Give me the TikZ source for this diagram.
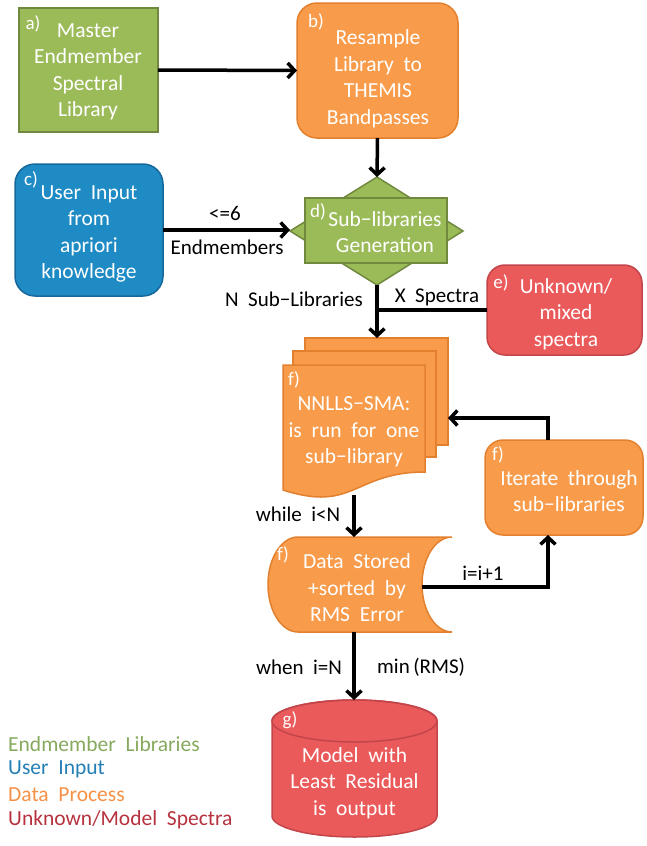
\documentclass[tikz,border=0pt]{standalone}
\usepackage{fontspec}
\setmainfont[WordSpace=2.0]{Carlito}
\usetikzlibrary{arrows.meta}
\definecolor{gfill}{HTML}{9BBB59}
\definecolor{gdraw}{HTML}{71893F}
\definecolor{ofill}{HTML}{F89C4C}
\definecolor{odraw}{HTML}{E3802E}
\definecolor{bfill}{HTML}{1E8BC5}
\definecolor{bdraw}{HTML}{16679A}
\definecolor{rfill}{HTML}{EB5A5B}
\definecolor{rdraw}{HTML}{C2454A}
\definecolor{lgreen}{HTML}{86A95E}
\definecolor{lblue}{HTML}{237FB4}
\definecolor{lorange}{HTML}{F59047}
\definecolor{lred}{HTML}{B5323E}
\begin{document}
\begin{tikzpicture}[x=1pt,y=-1pt,
  gshape/.style={fill=gfill,draw=gdraw,line width=1.5pt},
  oshape/.style={fill=ofill,draw=odraw,line width=1.5pt},
  bshape/.style={fill=bfill,draw=bdraw,line width=1.5pt},
  rshape/.style={fill=rfill,draw=rdraw,line width=1.5pt},
  boxnode/.style={inner sep=0pt,outer sep=0pt},
  boxtext/.style={text=white,align=center,inner sep=0pt,font=\fontsize{21.5}{26.5}\selectfont},
  tag/.style={text=white,inner sep=0pt,font=\fontsize{19}{20}\selectfont},
  elabel/.style={text=black,inner sep=0pt,font=\fontsize{21}{24}\selectfont},
  legend/.style={anchor=west,inner sep=0pt,font=\fontsize{21.5}{24}\selectfont},
  arr/.style={line width=3.5pt,-{Straight Barb[length=7pt,width=15pt,line width=3.5pt]}},
  conn/.style={line width=3.5pt}]
\useasboundingbox (0,0) rectangle (646,846);

% a) master library
\node[gshape,boxnode,minimum width=139pt,minimum height=124pt] (a) at (88.5,70) {};
\node[boxtext] (atext) at (88,72) {Master\\Endmember\\Spectral\\Library};
\node[tag] (atag) at (33,24) {a)};

% b) resample
\node[oshape,boxnode,rounded corners=20pt,minimum width=161pt,minimum height=135pt] (b) at (377.5,70.5) {};
\node[boxtext] (btext) at (378,79) {Resample\\Library to\\THEMIS\\Bandpasses};
\node[tag] (btag) at (316,22) {b)};

% c) user input
\node[bshape,boxnode,rounded corners=20pt,minimum width=148pt,minimum height=132pt] (c) at (89,230) {};
\node[boxtext] (ctext) at (89,234) {User Input\\from\\apriori\\knowledge};
\node[tag] (ctag) at (31,180) {c)};

% d) sub-libraries generation
\coordinate (dt) at (377,177);
\coordinate (dr) at (463,231);
\coordinate (db) at (377,285);
\coordinate (dl) at (290,231);
\filldraw[gshape] (dt) -- (dr) -- (db) -- (dl) -- cycle;
\node[gshape,boxnode,minimum width=142pt,minimum height=65pt] (d) at (376,230.5) {};
\node[boxtext] (dtext) at (385,232) {Sub−libraries\\Generation};
\node[tag] (dtag) at (318,212) {d)};

% e) unknown spectra
\node[rshape,boxnode,rounded corners=18pt,minimum width=155pt,minimum height=90pt] (e) at (564.5,310) {};
\node[boxtext] (etext) at (566,314) {Unknown/\\mixed\\spectra};
\node[tag] (etag) at (501,283) {e)};

% f) multi-document
\node[oshape,boxnode,minimum width=143pt,minimum height=107pt] (fback) at (376.5,391.5) {};
\node[oshape,boxnode,minimum width=143pt,minimum height=106pt] (fmid) at (364.5,404) {};
\filldraw[oshape] (283,365) -- (425,365) -- (425,472)
  .. controls (354,472) and (354,513) .. (283,490) -- cycle;
\node[boxtext] (ftext) at (354,432) {NNLLS−SMA:\\is run for one\\sub−library};
\node[tag] (ftag) at (294,380) {f)};

% f) data stored
\filldraw[oshape] (298,537) -- (452,537)
  arc[start angle=270,end angle=90,x radius=30,y radius=47.5]
  -- (298,632)
  arc[start angle=90,end angle=270,x radius=30,y radius=47.5] -- cycle;
\node[boxtext] (dstext) at (357,588) {Data Stored\\+sorted by\\RMS Error};
\node[tag] (dstag) at (283,555) {f)};

% f) iterate
\node[oshape,boxnode,rounded corners=18pt,minimum width=158pt,minimum height=95pt] (it) at (564,487.5) {};
\node[boxtext] (ittext) at (569,491) {Iterate through\\sub−libraries};
\node[tag] (ittag) at (498,455) {f)};

% g) cylinder
\filldraw[rshape] (272,721) -- (272,816) arc[start angle=180,end angle=0,x radius=82.5,y radius=21]
  -- (437,721) arc[start angle=360,end angle=180,x radius=82.5,y radius=21] -- cycle;
\draw[rdraw,line width=1.5pt] (354.5,721) ellipse[x radius=82.5,y radius=21];
\node[boxtext] (gtext) at (354.5,783) {Model with\\Least Residual\\is output};
\node[tag] (gtag) at (290,720) {g)};

% coordinates for connectors
\coordinate (j) at (377,310);
\coordinate (fbot) at (354,495);
\coordinate (dstop) at (354,537);
\coordinate (dsbot) at (354,632);
\coordinate (dsr) at (422,587);
\coordinate (itb) at (548,535);
\coordinate (itt) at (548,440);
\coordinate (backr) at (448,418);
\coordinate (gtop) at (354,700);

% connectors
\draw[arr] (a.east) -- (b.west);
\draw[arr] (b.south) -- (dt);
\draw[arr] (c.east) -- (c.east -| dl);
\draw[conn] (e.west) -- (j);
\draw[arr] (db) -- (db |- fback.north);
\draw[arr] (fbot) -- (dstop);
\draw[arr] (dsr) -| (itb);
\draw[arr] (itt) |- (backr);
\draw[arr] (dsbot) -- (gtop);

% edge labels
\node[elabel] (l1) at (225,213) {<=6};
\node[elabel] (l2) at (227,247) {Endmembers};
\node[elabel,anchor=east] (l3) at (363,299) {N Sub−Libraries};
\node[elabel] (l4) at (437,297) {X Spectra};
\node[elabel] (l5) at (298,514) {while i<N};
\node[elabel] (l6) at (483,573) {i=i+1};
\node[elabel] (l7) at (299,667) {when i=N};
\node[elabel,anchor=west] (l8) at (377,667) {min\,(RMS)};

% legend
\node[legend,text=lgreen] (leg1) at (8,744) {Endmember Libraries};
\node[legend,text=lblue] (leg2) at (8,769) {User Input};
\node[legend,text=lorange] (leg3) at (8,795) {Data Process};
\node[legend,text=lred] (leg4) at (8,820) {Unknown/Model Spectra};
\end{tikzpicture}
\end{document}
